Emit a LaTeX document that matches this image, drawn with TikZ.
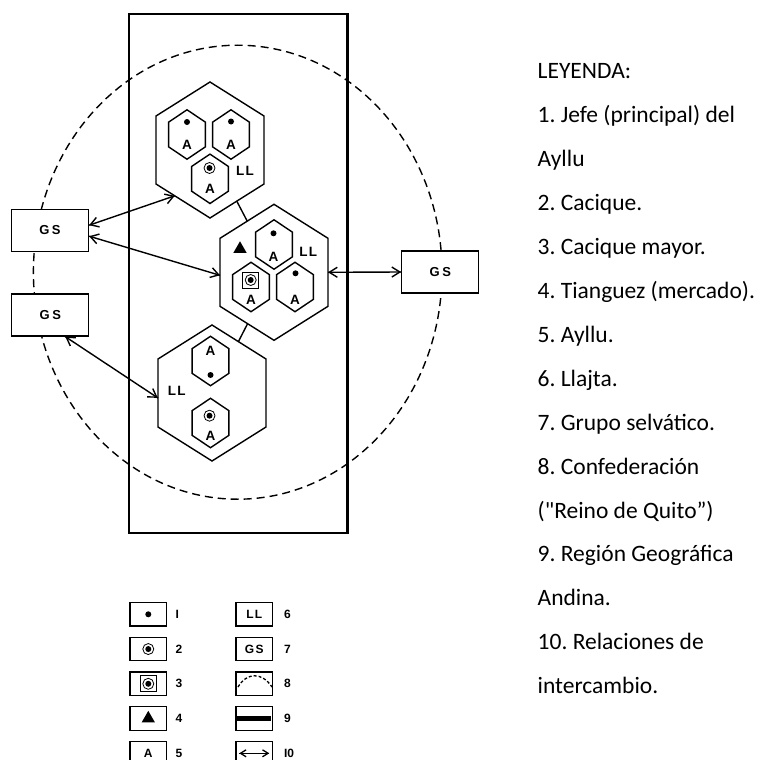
\documentclass[tikz,border=0pt]{standalone}
\usepackage{fontspec}
\setmainfont{Carlito}
\newfontfamily\plainfont{Carlito}
\newfontfamily\markfont{Liberation Sans}
\usetikzlibrary{arrows.meta}
\usetikzlibrary{decorations.markings}
\usetikzlibrary{positioning}
\usetikzlibrary{shapes.geometric}
\frenchspacing
\tikzset{trade/.style = {decoration={markings,
                                     mark=at position 0 with {\arrowreversed{Straight Barb[length=8pt, width=10pt, scale=#1]}},
                                     mark=at position 1 with {\arrow{Straight Barb[length=8pt, width=10pt, scale=#1]}}},
                         postaction={decorate}},
         trade/.default = 1}
\tikzset{llajta/.style = {draw, regular polygon, regular polygon sides=6, shape border rotate=30,
                          minimum size=136, inner sep=0, outer sep=0, xscale=0.917, transform shape}}
\tikzset{ayllu/.style = {draw, regular polygon, regular polygon sides=6, shape border rotate=30,
                         minimum size=49.4, inner sep=0, outer sep=0, xscale=0.86, transform shape}}
\tikzset{circ/.style = {fill, circle, inner sep=0, minimum size=6}}
\tikzset{ring/.style = {draw, circle, inner sep=0, minimum size=11, line width=0.8}}
\tikzset{sqr/.style = {draw, inner sep=0, minimum size=16, line width=0.8}}
\tikzset{tri/.style = {fill, regular polygon, regular polygon sides=3, inner sep=0, minimum size=15.4}}
\tikzset{tag/.style = {inner sep=0, font=\markfont\bfseries\fontsize{13.5}{15}\selectfont}}
\tikzset{gsbox/.style = {draw, fill=white, line width=1.3, minimum width=77, minimum height=42, inner sep=0,
                         font=\markfont\bfseries\fontsize{13}{14}\selectfont}}
\tikzset{keybox/.style = {draw, line width=1.3, minimum width=36.7, minimum height=23.5, inner sep=0,
                          font=\markfont\bfseries\fontsize{12}{13}\selectfont}}
\tikzset{keynum/.style = {inner sep=0, font=\markfont\bfseries\fontsize{12}{13}\selectfont}}

\begin{document}
\begin{tikzpicture}[x=1pt, y=-1pt, line width=1.4]
    \useasboundingbox (0, 0) rectangle (760, 760);

    % region and confederation
    \draw [line width=2.6] (129, 14) rectangle (347.5, 533);
    \draw [dash pattern=on 8pt off 5pt] (237.7, 272.2) ellipse [x radius=204.3, y radius=227];

    \node [gsbox] (gs1) at (50, 230.2) {G\kern2.5pt S};
    \node [gsbox] (gs2) at (50.3, 315) {G\kern2.5pt S};
    \node [gsbox] (gs3) at (440.3, 272) {G\kern2.5pt S};

    % llajtas
    \node [llajta] (ll1) at (210, 150) {};
    \node [llajta] (ll2) at (274, 272.3) {};
    \node [llajta] (ll3) at (212, 393) {};
    \draw (ll1) -- (ll2);
    \draw (ll2) -- (ll3);

    % first llajta
    \node [ayllu] (a1) at (187, 134.5) {};
    \node [ayllu] (a2) at (231, 134.5) {};
    \node [ayllu] (a3) at (210, 178.8) {};
    \node [circ] (j1) at (187, 122) {};
    \node [tag] (t1) at (187, 145) {A};
    \node [circ] (j2) at (231, 121.5) {};
    \node [tag] (t2) at (231, 145) {A};
    \node [ring] (c1) at (209.5, 168) {};
    \node [circ] (j3) at (c1) {};
    \node [tag] (t3) at (210, 188.5) {A};
    \node [tag] (l1) at (245, 170.7) {L\kern1.2pt L};

    % second llajta
    \node [ayllu] (a4) at (274, 244.5) {};
    \node [ayllu] (a5) at (251, 287) {};
    \node [ayllu] (a6) at (295, 287) {};
    \node [tri] (m1) at (240, 249) {};
    \node [circ] (j4) at (273.5, 233.3) {};
    \node [tag] (t4) at (273.5, 256.7) {A};
    \node [sqr] (s1) at (250.7, 280) {};
    \node [ring] (c2) at (s1) {};
    \node [circ] (j5) at (s1) {};
    \node [tag] (t5) at (251, 300) {A};
    \node [circ] (j6) at (295.5, 273.3) {};
    \node [tag] (t6) at (295, 300) {A};
    \node [tag] (l2) at (308.3, 252.3) {L\kern1.2pt L};

    % third llajta
    \node [ayllu] (a7) at (210.5, 361) {};
    \node [ayllu] (a8) at (210.5, 423) {};
    \node [tag] (t7) at (210.5, 350.7) {A};
    \node [circ] (j7) at (210.5, 375) {};
    \node [ring] (c3) at (209.5, 415.7) {};
    \node [circ] (j8) at (c3) {};
    \node [tag] (t8) at (210.5, 436) {A};
    \node [tag] (l3) at (176.7, 391) {L\kern1.2pt L};

    % exchange
    \draw [trade] ([yshift=5pt]gs1.east) -- (ll1.230);
    \draw [trade] ([yshift=-6pt]gs1.east) -- ([yshift=-3pt]ll2.west);
    \draw [trade] (ll2.east) -- (gs3.west);
    \draw [trade] ([xshift=15pt]gs2.south) -- ([yshift=-5pt]ll3.west);

    % key
    \node [keybox] (leg1) at (148.3, 614.3) {};
    \node [keybox] (leg2) at (148.3, 649.05) {};
    \node [keybox] (leg3) at (148.3, 683.8) {};
    \node [keybox] (leg4) at (148.3, 718.55) {};
    \node [keybox] (leg5) at (148.3, 753.3) {A};
    \node [keybox] (leg6) at (254.3, 614.3) {L\kern1.2pt L};
    \node [keybox] (leg7) at (254.3, 649.05) {G\kern1.5pt S};
    \node [keybox] (leg8) at (254.3, 683.8) {};
    \node [keybox] (leg9) at (254.3, 718.55) {};
    \node [keybox] (leg10) at (254.3, 753.3) {};

    \node [circ] (k1) at (leg1) {};
    \node [ring] (k2) at (leg2) {};
    \node [circ] at (k2) {};
    \node [sqr] (k3) at (leg3) {};
    \node [ring] at (k3) {};
    \node [circ] at (k3) {};
    \node [tri] (k4) at (leg4) {};
    \draw [dash pattern=on 3pt off 2pt, line width=1.3] (238, 687) .. controls (247, 672) and (262, 672) .. (272, 687);
    \draw [line width=4.2] ([xshift=2pt]leg9.west) -- ([xshift=-2pt]leg9.east);
    \draw [trade=0.7, line width=1.3] ([xshift=4pt]leg10.west) -- ([xshift=-4pt]leg10.east);

    \node [keynum, right=7.5pt of leg1] (n1) {I};
    \node [keynum, right=7.5pt of leg2] (n2) {2};
    \node [keynum, right=7.5pt of leg3] (n3) {3};
    \node [keynum, right=7.5pt of leg4] (n4) {4};
    \node [keynum, right=7.5pt of leg5] (n5) {5};
    \node [keynum, right=10pt of leg6] (n6) {6};
    \node [keynum, right=10pt of leg7] (n7) {7};
    \node [keynum, right=10pt of leg8] (n8) {8};
    \node [keynum, right=10pt of leg9] (n9) {9};
    \node [keynum, right=10pt of leg10] (n10) {I0};

    % legend
    \foreach \txt [count=\i from 0] in {LEYENDA:, 1. Jefe (principal) del, Ayllu, 2. Cacique., 3. Cacique mayor.,
                                        4. Tianguez (mercado)., 5. Ayllu., 6. Llajta., 7. Grupo selvático.,
                                        8. Confederación, {({\plainfont"}Reino de Quito”)}, 9. Región Geográfica, Andina.,
                                        10. Relaciones de, intercambio.}
        \node [anchor=base west, inner sep=0, font=\fontsize{23.5}{26}\selectfont] (ley\i) at (537, {78.5 + 43.95*\i}) {\txt};
\end{tikzpicture}
\end{document}
